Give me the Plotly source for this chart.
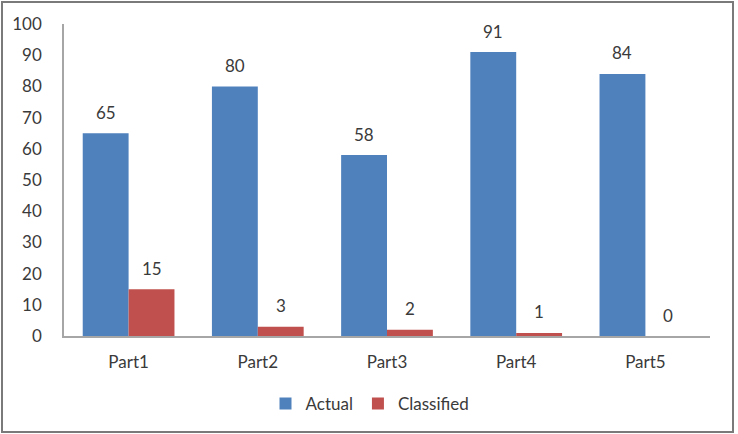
import plotly.graph_objects as go

categories = ["Part1", "Part2", "Part3", "Part4", "Part5"]
actual = [65, 80, 58, 91, 84]
classified = [15, 3, 2, 1, 0]

W, H = 738, 434
L, R, T, B = 64, 28, 24, 98
pw, ph = W - L - R, H - T - B

font_family = "Lato, Open Sans, sans-serif"
txt_color = "#3a3a3a"
fs = 17

fig = go.Figure()
fig.add_trace(go.Bar(name="Actual", x=categories, y=actual, marker_color="#4F81BD",
                     marker_line_width=0))
fig.add_trace(go.Bar(name="Classified", x=categories, y=classified, marker_color="#C0504D",
                     marker_line_width=0))

annotations = []
for i, (a, c) in enumerate(zip(actual, classified)):
    annotations.append(dict(x=i - 0.178, y=a, xref="x", yref="y", text=str(a), showarrow=False,
                            yshift=21, font=dict(size=fs, color=txt_color, family=font_family)))
    annotations.append(dict(x=i + 0.178, y=c, xref="x", yref="y", text=str(c), showarrow=False,
                            yshift=21, font=dict(size=fs, color=txt_color, family=font_family)))

px2x = lambda p: (p - L) / pw
px2y = lambda p: (H - B - p) / ph

fig.update_layout(
    width=W, height=H,
    margin=dict(l=L, r=R, t=T, b=B),
    paper_bgcolor="white", plot_bgcolor="white",
    barmode="group", bargap=0.29, bargroupgap=0,
    font=dict(family=font_family, size=fs, color=txt_color),
    showlegend=True,
    legend=dict(orientation="h", x=px2x(370), xanchor="center", y=px2y(404), yanchor="middle",
                font=dict(size=fs, color=txt_color), itemwidth=30, traceorder="normal"),
    annotations=annotations,
    shapes=[dict(type="rect", xref="paper", yref="paper",
                 x0=px2x(2), x1=px2x(733), y0=px2y(432), y1=px2y(2),
                 line=dict(color="#7a7a7a", width=2), layer="below")],
    xaxis=dict(showgrid=False, showline=True, linecolor="#a6a6a6", linewidth=1.5,
               ticks="", tickfont=dict(size=fs, color=txt_color), ticklabelstandoff=10,
               range=[-0.5, 4.5]),
    yaxis=dict(range=[0, 100], dtick=10, showgrid=False, showline=True, linecolor="#a6a6a6",
               linewidth=1.5, ticks="", tickfont=dict(size=fs, color=txt_color),
               ticklabelstandoff=17, zeroline=False),
)

fig.write_html("out.html")
